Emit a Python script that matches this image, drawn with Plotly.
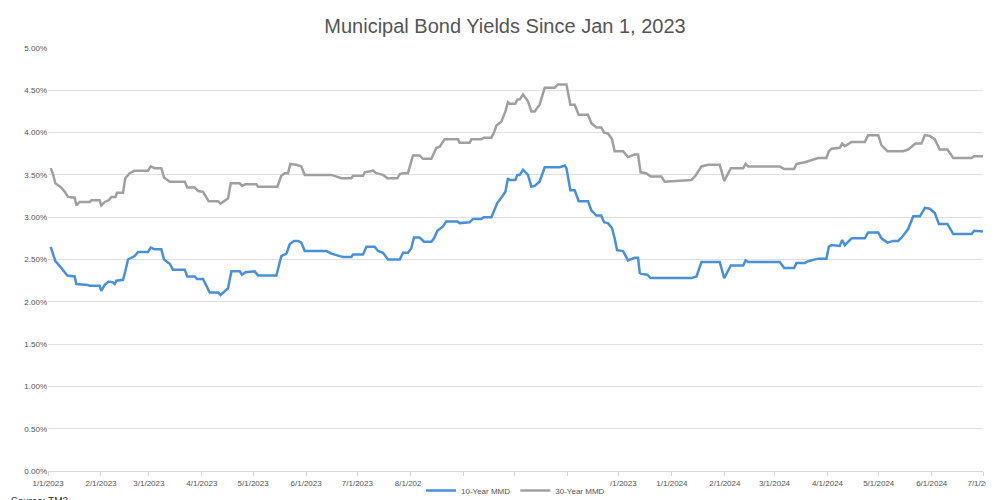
import plotly.graph_objects as go
import pandas as pd

# day offsets from 2023-01-01 and yields (%)
ten_days = [1.6,2.9,4.3,7.8,11.3,15.6,16.6,23,24.4,30.2,31.2,33.2,35.5,38,39,40,43.9,45.2,46.8,50.7,52.7,58.5,60.1,62.4,66.3,67.9,71.2,73.1,80,81.5,85.8,87.2,90.7,94.6,99.5,101,103.4,105.3,107.3,112.2,113.5,115.5,120.9,122.9,133.6,136.5,139.5,141.4,143.9,146.3,148.2,150.2,162.9,165.8,170.7,172.6,177.5,178.5,184.3,186.3,191.1,193.1,196,198.9,205.8,207.7,
            210.6,212.5,214.1,217.4,220,224.3,225.8,227.8,231.1,233,239.5,240.8,246.7,248.6,253.5,255.1,259.4,260.9,262.9,265.2,267.6,269.1,270.1,273.4,274.6,276,277.9,280.8,282.8,284.7,287.6,290.6,299.4,302.3,303.3,305.6,308.1,310.5,315.9,317.9,320.8,323.7,325.3,327.6,330,331.5,332.9,336.4,339.3,343.2,345.2,346.2,347.1,350.6,352.6,376.4,
            379.4,382.3,393,395.6,399.5,406.7,408.1,409.6,428.1,430.7,436.5,437.9,442.8,444.7,450.6,455.4,456.8,458.4,463.2,464.6,466.2,470.1,477.9,479.8,485.7,487.6,491.1,494.5,497.4,500.3,503.2,506.2,510.1,513,515.9,518.8,521.2,526.2,529.6,540.3,541.9,547]
ten_vals = [2.65,2.58,2.48,2.40,2.31,2.30,2.21,2.20,2.19,2.19,2.13,2.20,2.24,2.23,2.21,2.25,2.26,2.36,2.50,2.54,2.59,2.59,2.64,2.62,2.62,2.50,2.45,2.38,2.38,2.30,2.30,2.27,2.27,2.11,2.11,2.08,2.12,2.16,2.36,2.36,2.32,2.35,2.36,2.31,2.31,2.54,2.57,2.68,2.72,2.72,2.70,2.60,2.60,2.57,2.54,2.53,2.53,2.56,2.56,2.65,2.65,2.60,2.58,2.50,2.50,2.58,
            2.58,2.63,2.76,2.76,2.71,2.71,2.75,2.84,2.89,2.95,2.95,2.93,2.94,2.98,2.98,3.00,3.00,3.07,3.17,3.23,3.30,3.46,3.44,3.44,3.50,3.50,3.56,3.50,3.36,3.37,3.42,3.59,3.59,3.61,3.58,3.32,3.32,3.19,3.19,3.08,3.02,3.02,2.94,2.93,2.87,2.75,2.61,2.60,2.49,2.52,2.52,2.34,2.33,2.32,2.28,2.28,
            2.30,2.47,2.47,2.28,2.43,2.43,2.49,2.47,2.47,2.40,2.40,2.46,2.46,2.48,2.51,2.51,2.65,2.67,2.66,2.73,2.67,2.75,2.75,2.82,2.82,2.75,2.70,2.72,2.72,2.78,2.86,3.01,3.01,3.11,3.10,3.05,2.92,2.92,2.80,2.80,2.84,2.83]

thirty_days = [1.6,2.9,4.3,7.8,9.8,11.7,15.6,16.6,18.5,24.4,25.4,30.2,31.2,33.2,35.5,37.1,39.4,40.4,43.9,45.2,47.8,50.7,58.5,60.1,62.4,66.3,67.9,71.2,80,81.5,85.8,87.8,90.7,94,99.5,101,103,105.3,106.9,112.2,113.5,115.5,121.9,122.9,134.2,136.5,138.5,140.4,141.8,145.3,148.2,150.2,165.8,171.6,177.5,178.5,184.3,185.3,190.2,192.1,196,198.6,204.4,205.8,207.7,
               210.6,213.5,217.4,219.4,224.3,227.2,229.1,232,239.9,240.8,246.7,247.7,253.5,255.1,259.4,260.9,262.3,265.2,267.6,269.1,270.1,273.4,274.6,276,277.9,280.8,282.8,284.7,287.6,290.6,296.4,298.4,303.3,305.6,308.1,310.5,315.9,317.9,320.8,323.7,325.3,327.6,330,331.5,336.4,339.3,343.2,345.2,346.7,350,352.6,358.8,360.8,376.4,
               378.8,382.3,386.2,393,395.6,399.5,406.7,408.1,409.6,428.1,430.7,436.5,437.9,442.8,444.7,450.6,455.4,456.8,458.4,463.2,464.6,466.2,470.1,477.9,479.8,485.7,487.6,491.1,500.3,503.2,507.5,511,513,515.9,518.8,521.7,526.2,529.6,540.3,541.9,547]
thirty_vals = [3.58,3.51,3.40,3.35,3.30,3.24,3.23,3.14,3.18,3.18,3.20,3.20,3.14,3.18,3.20,3.24,3.24,3.29,3.29,3.46,3.52,3.55,3.55,3.60,3.58,3.58,3.47,3.42,3.42,3.35,3.35,3.31,3.30,3.19,3.19,3.16,3.19,3.22,3.40,3.40,3.37,3.39,3.39,3.36,3.36,3.49,3.52,3.52,3.63,3.62,3.60,3.50,3.50,3.46,3.46,3.49,3.49,3.53,3.55,3.52,3.50,3.46,3.46,3.51,3.52,
               3.52,3.73,3.73,3.69,3.69,3.82,3.83,3.92,3.92,3.88,3.88,3.92,3.92,3.94,3.94,4.00,4.08,4.13,4.25,4.36,4.34,4.34,4.39,4.39,4.45,4.37,4.25,4.25,4.33,4.53,4.53,4.57,4.57,4.33,4.33,4.21,4.21,4.11,4.06,4.06,4.00,3.99,3.92,3.78,3.78,3.71,3.74,3.74,3.53,3.52,3.48,3.48,3.42,3.44,
               3.49,3.60,3.62,3.62,3.43,3.58,3.58,3.63,3.60,3.60,3.57,3.57,3.63,3.65,3.66,3.70,3.70,3.78,3.81,3.82,3.87,3.84,3.89,3.89,3.97,3.97,3.85,3.78,3.78,3.80,3.87,3.87,3.97,3.96,3.92,3.80,3.80,3.70,3.70,3.72,3.72]

tick_dates = pd.date_range("2023-01-01", "2024-07-01", freq="MS")
tick_labels = [f"{d.month}/{d.day}/{d.year}" for d in tick_dates]

base = pd.Timestamp("2023-01-01")
def to_dates(days):
    return [base + pd.Timedelta(days=d) for d in days]

fig = go.Figure()
fig.add_trace(go.Scatter(x=to_dates(ten_days), y=[v/100 for v in ten_vals], mode="lines",
                         name="10-Year MMD", line=dict(color="#4a90d9", width=2.5)))
fig.add_trace(go.Scatter(x=to_dates(thirty_days), y=[v/100 for v in thirty_vals], mode="lines",
                         name="30-Year MMD", line=dict(color="#a0a0a0", width=2.5)))

fig.update_layout(
    width=994, height=500, plot_bgcolor="white", paper_bgcolor="white",
    margin=dict(l=40, r=19, t=40, b=37, autoexpand=False),
    font=dict(family="Liberation Sans, Arial, sans-serif", size=9, color="#555555"),
    title=dict(text="Municipal Bond Yields Since Jan 1, 2023", x=0.5, xanchor="center",
               yref="container", y=0.965, yanchor="middle",
               font=dict(size=20, color="#555555")),
    legend=dict(orientation="h", x=0.5, xanchor="center", yref="container", y=0.035, yanchor="middle",
                font=dict(size=8, color="#555555")),
    xaxis=dict(range=[tick_dates[0], tick_dates[-1]], tickvals=tick_dates, ticktext=tick_labels,
               showgrid=False, showline=True, linecolor="#d9d9d9", ticks="outside",
               tickcolor="#d9d9d9", ticklen=4, tickangle=0, tickfont=dict(size=8)),
    yaxis=dict(range=[0, 0.05], dtick=0.005, tickformat=".2%", showgrid=True, gridcolor="#e0e0e0",
               zeroline=False, tickfont=dict(size=8)),
    annotations=[dict(text="Source: TM3", xref="paper", yref="paper", x=-0.042, y=-0.055,
                      xanchor="left", yanchor="top", showarrow=False, font=dict(size=10, color="#333333"))],
)
fig.write_html("out.html")
